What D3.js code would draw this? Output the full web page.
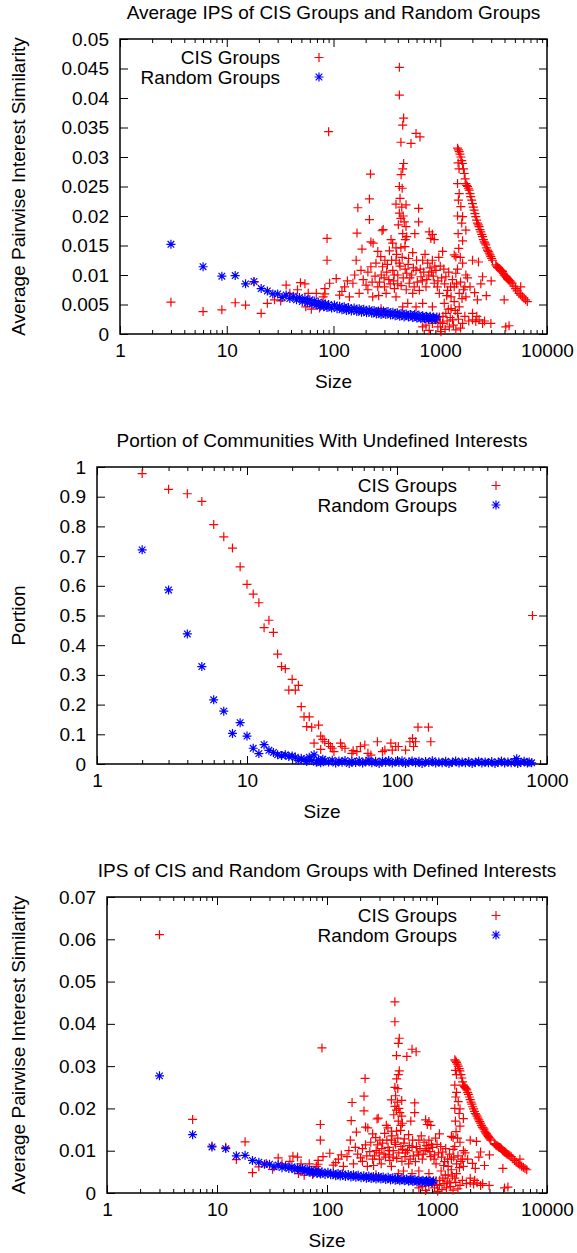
<!DOCTYPE html>
<html>
<head>
<meta charset="utf-8">
<script src="https://cdn.jsdelivr.net/npm/d3@7"></script>
<style>
  body { margin: 0; background: #fff; }
  svg { display: block; font-family: 'Liberation Sans', Arial, sans-serif; }
</style>
</head>
<body>
<svg id="chart" width="577" height="1253"></svg>
<script>
// ---- data ----
// [size, average pairwise interest similarity]
const cisSmall1 = [[3, 0.0054], [6, 0.0038], [9, 0.0041], [12, 0.0053], [15, 0.0049], [18, 0.0088], [21, 0.0035], [24, 0.0052], [28, 0.0058]];
const cisSmall3 = [[3, 0.0611], [6, 0.0174], [9, 0.0111], [12, 0.0108], [15, 0.0079], [18, 0.0121], [21, 0.0048], [24, 0.0062], [28, 0.0070]];
const cisLarge = [
  [32, 0.0056], [36, 0.0083], [39, 0.0069], [46, 0.0075], [49, 0.0087], [54, 0.0085], [55, 0.0046], [58, 0.0069],
  [62, 0.0042], [69, 0.0069], [74, 0.0044], [80, 0.0063], [83, 0.0068], [87, 0.0125], [87, 0.0162], [90, 0.0343], [92, 0.0086],
  [106, 0.0094], [127, 0.0080], [152, 0.0086], [202, 0.0083], [260, 0.0080], [311, 0.0069], [372, 0.0077], [385, 0.0063],
  [512, 0.0086], [552, 0.0069], [637, 0.0074], [735, 0.0080], [878, 0.0086], [980, 0.0069], [1172, 0.0074], [1263, 0.0063],
  [1352, 0.0080], [1505, 0.0069], [1738, 0.0063], [83, 0.0077], [114, 0.0066], [141, 0.0063], [174, 0.0069], [233, 0.0063],
  [279, 0.0043], [445, 0.0046], [496, 0.0052], [593, 0.0046], [684, 0.0052], [844, 0.0046],
  [684, 0.0012], [788, 0.0006], [844, 0.0018], [735, 0.0015], [912, 0.0024],
  [980, 0.0029], [1052, 0.0018], [1129, 0.0035], [1217, 0.0012], [1304, 0.0024], [1400, 0.0007], [1452, 0.0035], [1618, 0.0018],
  [1090, 0.0052], [1263, 0.0043], [1505, 0.0046], [1015, 0.0004], [2006, 0.0024], [2152, 0.0021], [2312, 0.0024], [2490, 0.0018],
  [2979, 0.0018], [2230, 0.0058], [2006, 0.0035], [4108, 0.0012], [4412, 0.0014], [3970, 0.0058],
  [950, 0.0012], [1000, 0.0020], [1060, 0.0030], [1110, 0.0008], [1160, 0.0022], [1190, 0.0042], [1240, 0.0028], [1330, 0.0015],
  [1380, 0.0040], [1480, 0.0025], [1550, 0.0010], [1700, 0.0030], [1850, 0.0022], [2200, 0.0030], [2600, 0.0022],
  [414, 0.0452], [414, 0.0405], [454, 0.0366], [445, 0.0354], [428, 0.0325], [532, 0.0323], [593, 0.0340], [646, 0.0334],
  [454, 0.0289], [222, 0.0271], [414, 0.0250], [440, 0.0247], [217, 0.0229], [169, 0.0214], [385, 0.0220], [478, 0.0219],
  [627, 0.0213], [414, 0.0205], [428, 0.0196], [460, 0.0190], [217, 0.0194], [627, 0.0190], [478, 0.0182], [285, 0.0175],
  [292, 0.0177], [166, 0.0171], [578, 0.0170], [485, 0.0165], [788, 0.0173], [844, 0.0169], [878, 0.0160], [816, 0.0162],
  [420, 0.0230], [436, 0.0215], [450, 0.0200], [405, 0.0185], [445, 0.0170], [470, 0.0160], [430, 0.0270], [445, 0.0280],
  [224, 0.0156], [235, 0.0154], [346, 0.0160], [358, 0.0154], [385, 0.0146], [428, 0.0146], [467, 0.0148], [185, 0.0144],
  [260, 0.0140], [334, 0.0141], [552, 0.0138], [1052, 0.0140], [1352, 0.0134], [1400, 0.0131], [163, 0.0125], [277, 0.0131],
  [303, 0.0125], [385, 0.0125], [505, 0.0128], [684, 0.0125], [844, 0.0125], [1618, 0.0120], [2006, 0.0125], [2281, 0.0122],
  [181, 0.0108], [224, 0.0114], [288, 0.0114], [359, 0.0108], [414, 0.0120], [485, 0.0103], [593, 0.0108], [660, 0.0097],
  [762, 0.0120], [912, 0.0108], [1129, 0.0097], [1400, 0.0103], [1738, 0.0100], [1800, 0.0095], [2490, 0.0097],
  [120, 0.0072], [135, 0.0090], [158, 0.0100], [190, 0.0092], [210, 0.0075], [245, 0.0098], [270, 0.0088], [298, 0.0095],
  [320, 0.0118], [340, 0.0085], [365, 0.0090], [400, 0.0100], [430, 0.0082], [470, 0.0110], [520, 0.0095], [560, 0.0112],
  [610, 0.0088], [700, 0.0105], [750, 0.0092], [800, 0.0112], [860, 0.0098], [950, 0.0090], [1000, 0.0115], [1100, 0.0085],
  [1200, 0.0105], [1300, 0.0092], [1450, 0.0110], [1550, 0.0088], [1650, 0.0075], [1900, 0.0080], [2100, 0.0070],
  [2400, 0.0085], [2700, 0.0065], [3000, 0.0090],
  [210, 0.0105], [230, 0.0088], [250, 0.0120], [265, 0.0065], [280, 0.0100], [300, 0.0080], [315, 0.0105], [330, 0.0092],
  [350, 0.0125], [370, 0.0100], [390, 0.0135], [400, 0.0085], [420, 0.0115], [440, 0.0130], [450, 0.0095], [480, 0.0075],
  [500, 0.0118], [540, 0.0100], [570, 0.0080], [600, 0.0125], [650, 0.0110], [680, 0.0090], [720, 0.0135], [780, 0.0100],
  [830, 0.0105], [890, 0.0115], [940, 0.0080], [970, 0.0130], [1030, 0.0095], [1080, 0.0110], [1150, 0.0065], [1250, 0.0080],
  [1350, 0.0055], [1420, 0.0085], [1600, 0.0060], [1700, 0.0080],
  [1452, 0.0200], [1470, 0.0170], [1490, 0.0145], [1540, 0.0130], [1500, 0.0280], [1470, 0.0290],
  [1452, 0.0255], [1505, 0.0238], [1480, 0.0227], [1560, 0.0216], [1618, 0.0199], [1590, 0.0188], [1618, 0.0158], [1738, 0.0176],
  [1452, 0.0315], [1480, 0.0312], [1505, 0.0309], [1530, 0.0305], [1560, 0.0300], [1590, 0.0294], [1618, 0.0289], [1650, 0.0280],
  [1680, 0.0272], [1710, 0.0263], [1738, 0.0255], [1770, 0.0252], [1800, 0.0250], [1835, 0.0247], [1867, 0.0244], [1900, 0.0238],
  [1930, 0.0233], [1970, 0.0227], [2006, 0.0221], [2040, 0.0215], [2075, 0.0210], [2110, 0.0204], [2152, 0.0199], [2190, 0.0193],
  [2230, 0.0188], [2270, 0.0185], [2312, 0.0182], [2355, 0.0177], [2400, 0.0173], [2445, 0.0169], [2490, 0.0165], [2535, 0.0160],
  [2580, 0.0156], [2625, 0.0154], [2673, 0.0151], [2720, 0.0146], [2770, 0.0142], [2820, 0.0140], [2872, 0.0137], [2925, 0.0134],
  [2979, 0.0131], [3030, 0.0128], [3085, 0.0125], [3316, 0.0117], [3380, 0.0115], [3440, 0.0113], [3500, 0.0112], [3566, 0.0111],
  [3630, 0.0109], [3700, 0.0108], [3760, 0.0107], [3828, 0.0106], [3900, 0.0103], [3970, 0.0100], [4040, 0.0099], [4108, 0.0097],
  [4180, 0.0096], [4260, 0.0094], [4330, 0.0092], [4412, 0.0091], [4500, 0.0090], [4600, 0.0088], [4730, 0.0086], [4900, 0.0081],
  [5080, 0.0077], [5250, 0.0073], [5477, 0.0069], [5670, 0.0066], [5878, 0.0063], [6100, 0.0061], [6310, 0.0058], [6540, 0.0055],
  [5670, 0.0080]
];
const randSmall1 = [[3, 0.0152], [6, 0.0114], [9, 0.0098], [12, 0.0099], [15, 0.0085], [18, 0.0089]];
const randSmall3 = [[3, 0.0277], [6, 0.0138], [9, 0.0109], [12, 0.0105], [15, 0.0088], [18, 0.0089]];
const randLarge = [
  [21, 0.0077], [24, 0.0073], [27, 0.0068], [30, 0.0068], [33, 0.0062], [36, 0.0066], [39, 0.0060], [42, 0.0064], [45, 0.0058],
  [48, 0.0062], [51, 0.0055], [54, 0.0060], [57, 0.0053], [60, 0.0058], [63, 0.0051], [66, 0.0056], [69, 0.0049], [72, 0.0054],
  [75, 0.0047], [78, 0.0052], [81, 0.0046], [84, 0.0051], [87, 0.0045], [90, 0.0050], [96, 0.0044], [102, 0.0049], [108, 0.0043],
  [114, 0.0047], [120, 0.0041], [126, 0.0046], [132, 0.0040], [138, 0.0045], [147, 0.0039], [156, 0.0044], [165, 0.0038],
  [174, 0.0043], [183, 0.0037], [192, 0.0042], [204, 0.0036], [216, 0.0041], [228, 0.0035], [240, 0.0040], [252, 0.0034],
  [264, 0.0039], [279, 0.0033], [294, 0.0039], [309, 0.0033], [324, 0.0038], [342, 0.0032], [360, 0.0037], [378, 0.0031],
  [396, 0.0036], [417, 0.0030], [438, 0.0035], [459, 0.0029], [480, 0.0034], [504, 0.0029], [528, 0.0033], [552, 0.0028],
  [576, 0.0033], [603, 0.0027], [630, 0.0032], [657, 0.0026], [684, 0.0031], [714, 0.0026], [744, 0.0030], [774, 0.0025],
  [804, 0.0030], [834, 0.0025], [864, 0.0029], [897, 0.0024], [930, 0.0029]
];

// [size, portion with undefined interests]
const cisPortion = [
  [2, 0.978], [3, 0.925], [4, 0.910], [5, 0.884], [6, 0.806], [7, 0.765], [8, 0.727], [9, 0.664], [10, 0.605], [11, 0.572],
  [12, 0.543], [13, 0.459], [14, 0.484], [15, 0.443], [16, 0.370], [17, 0.328], [18, 0.321], [19, 0.249], [20, 0.285],
  [21, 0.249], [22, 0.265], [23, 0.193], [24, 0.159], [25, 0.126], [26, 0.159], [27, 0.124], [28, 0.070], [30, 0.131],
  [31, 0.094], [31, 0.049], [32, 0.083], [33, 0.075], [35, 0.069], [36, 0.059], [37, 0.053], [38, 0.042], [42, 0.070],
  [43, 0.059], [45, 0.053], [50, 0.036], [51, 0.045], [54, 0.042], [57, 0.059], [61, 0.064], [64, 0.036], [67, 0.030],
  [74, 0.075], [80, 0.042], [83, 0.047], [91, 0.070], [93, 0.047], [98, 0.059], [102, 0.059], [114, 0.047], [122, 0.075],
  [127, 0.086], [129, 0.059], [133, 0.075], [138, 0.124], [162, 0.124], [168, 0.075], [800, 0.5]
];
const randPortion = [
  [2, 0.721], [3, 0.586], [4, 0.438], [5, 0.328], [6, 0.216], [7, 0.178], [8, 0.103], [9, 0.139], [10, 0.094], [11, 0.053],
  [12, 0.035], [13, 0.065], [14, 0.046], [15, 0.039], [16, 0.031], [17, 0.029], [18, 0.031], [19, 0.025], [20, 0.027],
  [21, 0.023], [23, 0.019], [26, 0.023], [28, 0.031], [32, 0.016],
  [22, 0.012], [24, 0.015], [25, 0.008], [27, 0.012], [29, 0.006], [30, 0.014], [31, 0.004], [33, 0.011], [35, 0.007],
  [37, 0.013], [39, 0.003], [41, 0.010], [43, 0.006], [45, 0.012], [48, 0.002], [50, 0.009], [53, 0.005], [56, 0.011],
  [59, 0.003], [62, 0.008], [65, 0.013], [68, 0.004], [72, 0.009], [76, 0.002], [80, 0.010], [84, 0.006], [88, 0.012],
  [93, 0.003], [98, 0.008], [103, 0.005], [108, 0.011], [114, 0.002], [120, 0.007], [126, 0.010], [133, 0.004], [140, 0.009],
  [147, 0.002], [155, 0.008], [163, 0.005], [172, 0.011], [181, 0.003], [190, 0.007], [200, 0.004], [211, 0.009], [222, 0.002],
  [234, 0.006], [246, 0.010], [259, 0.003], [272, 0.007], [286, 0.004], [301, 0.008], [317, 0.002], [333, 0.006], [350, 0.009],
  [368, 0.003], [387, 0.007], [407, 0.004], [428, 0.008], [450, 0.002], [473, 0.006], [497, 0.010], [522, 0.003], [549, 0.007],
  [577, 0.004], [607, 0.008], [628, 0.018], [638, 0.002], [670, 0.006], [704, 0.009], [740, 0.003], [760, 0.007], [790, 0.004]
];

// tick labels
const xTicksWide = ['1', '10', '100', '1000', '10000'];
const xTicksNarrow = ['1', '10', '100', '1000'];
const yTicks1 = ['0', '0.005', '0.01', '0.015', '0.02', '0.025', '0.03', '0.035', '0.04', '0.045', '0.05'];
const yTicks2 = ['0', '0.1', '0.2', '0.3', '0.4', '0.5', '0.6', '0.7', '0.8', '0.9', '1'];
const yTicks3 = ['0', '0.01', '0.02', '0.03', '0.04', '0.05', '0.06', '0.07'];

const seriesNames = ['CIS Groups', 'Random Groups'];
const RED = '#ff0000', BLUE = '#0000ff';
const FONT = 19;

const svg = d3.select('#chart');

// gnuplot style markers
function plusPath(x, y) {
  return `M${x - 4.5},${y}h9M${x},${y - 4.5}v9`;
}
function starPath(x, y) {
  return plusPath(x, y) + `M${x - 3.3},${y - 3.3}l6.6,6.6M${x - 3.3},${y + 3.3}l6.6,-6.6`;
}

function drawPanel(cfg) {
  const g = svg.append('g');
  const xTickVals = cfg.xTicks.map(Number);
  const yTickVals = cfg.yTicks.map(Number);

  const x = d3.scaleLog()
    .domain([xTickVals[0], xTickVals[xTickVals.length - 1]])
    .range([cfg.left, cfg.right]);
  const y = d3.scaleLinear()
    .domain([yTickVals[0], yTickVals[yTickVals.length - 1]])
    .range([cfg.bottom, cfg.top]);

  // minor log ticks 2..9 in every decade
  const minor = [];
  for (let i = 0; i < xTickVals.length - 1; i++) {
    for (let k = 2; k <= 9; k++) minor.push(xTickVals[i] * k);
  }

  const h = cfg.bottom - cfg.top;
  const w = cfg.right - cfg.left;

  // axes (ticks drawn inward, gnuplot mirror style)
  g.append('g')
    .attr('transform', `translate(0,${cfg.bottom})`)
    .call(d3.axisBottom(x).tickValues(xTickVals).tickSizeInner(-8).tickSizeOuter(0)
      .tickPadding(10).tickFormat((d, i) => cfg.xTicks[i]));
  g.append('g')
    .attr('transform', `translate(0,${cfg.bottom})`)
    .call(d3.axisBottom(x).tickValues(minor).tickSizeInner(-4).tickSizeOuter(0).tickFormat(''));
  g.append('g')
    .attr('transform', `translate(0,${cfg.top})`)
    .call(d3.axisTop(x).tickValues(xTickVals).tickSizeInner(-8).tickSizeOuter(0).tickFormat(''));
  g.append('g')
    .attr('transform', `translate(0,${cfg.top})`)
    .call(d3.axisTop(x).tickValues(minor).tickSizeInner(-4).tickSizeOuter(0).tickFormat(''));
  g.append('g')
    .attr('transform', `translate(${cfg.left},0)`)
    .call(d3.axisLeft(y).tickValues(yTickVals).tickSizeInner(-8).tickSizeOuter(0)
      .tickPadding(11).tickFormat((d, i) => cfg.yTicks[i]));
  g.append('g')
    .attr('transform', `translate(${cfg.right},0)`)
    .call(d3.axisRight(y).tickValues(yTickVals).tickSizeInner(-8).tickSizeOuter(0).tickFormat(''));

  g.selectAll('.domain').remove();
  g.selectAll('.tick line').attr('stroke', '#000').attr('stroke-width', 1);
  g.selectAll('.tick text')
    .attr('fill', '#000')
    .style('font-size', FONT + 'px')
    .style('font-family', "'Liberation Sans', Arial, sans-serif");

  // frame
  g.append('rect')
    .attr('x', cfg.left).attr('y', cfg.top)
    .attr('width', w).attr('height', h)
    .attr('fill', 'none').attr('stroke', '#000').attr('stroke-width', 1.5);

  // points: CIS first, random on top
  g.append('g').selectAll('path')
    .data(cfg.cis)
    .join('path')
    .attr('d', d => plusPath(x(d[0]), y(d[1])))
    .attr('stroke', RED).attr('stroke-width', 1.2).attr('fill', 'none');
  g.append('g').selectAll('path')
    .data(cfg.rand)
    .join('path')
    .attr('d', d => starPath(x(d[0]), y(d[1])))
    .attr('stroke', BLUE).attr('stroke-width', 1.2).attr('fill', 'none');

  // legend
  const ly = [cfg.top + 18.5, cfg.top + 38];
  seriesNames.forEach((name, i) => {
    g.append('text')
      .attr('x', cfg.legendText).attr('y', ly[i] + 6.5)
      .attr('text-anchor', 'end')
      .style('font-size', FONT + 'px')
      .text(name);
    g.append('path')
      .attr('d', i === 0 ? plusPath(cfg.legendSym, ly[i]) : starPath(cfg.legendSym, ly[i]))
      .attr('stroke', i === 0 ? RED : BLUE).attr('stroke-width', 1.2).attr('fill', 'none');
  });

  // title and axis labels
  g.append('text')
    .attr('x', (cfg.left + cfg.right) / 2).attr('y', cfg.top - 20.5)
    .attr('text-anchor', 'middle')
    .style('font-size', FONT + 'px')
    .text(cfg.title);
  g.append('text')
    .attr('x', (cfg.left + cfg.right) / 2).attr('y', cfg.bottom + 54)
    .attr('text-anchor', 'middle')
    .style('font-size', FONT + 'px')
    .text('Size');
  g.append('text')
    .attr('transform', `translate(24.5,${(cfg.top + cfg.bottom) / 2}) rotate(-90)`)
    .attr('text-anchor', 'middle')
    .style('font-size', FONT + 'px')
    .text(cfg.yLabel);
}

drawPanel({
  title: 'Average IPS of CIS Groups and Random Groups',
  yLabel: 'Average Pairwise Interest Similarity',
  left: 120, right: 547, top: 39, bottom: 334,
  xTicks: xTicksWide, yTicks: yTicks1,
  cis: cisSmall1.concat(cisLarge), rand: randSmall1.concat(randLarge),
  legendText: 280, legendSym: 319
});

drawPanel({
  title: 'Portion of Communities With Undefined Interests',
  yLabel: 'Portion',
  left: 97, right: 547, top: 467, bottom: 764,
  xTicks: xTicksNarrow, yTicks: yTicks2,
  cis: cisPortion, rand: randPortion,
  legendText: 457, legendSym: 496
});

drawPanel({
  title: 'IPS of CIS and Random Groups with Defined Interests',
  yLabel: 'Average Pairwise Interest Similarity',
  left: 107, right: 547, top: 897, bottom: 1193,
  xTicks: xTicksWide, yTicks: yTicks3,
  cis: cisSmall3.concat(cisLarge), rand: randSmall3.concat(randLarge),
  legendText: 457, legendSym: 496
});
</script>
</body>
</html>
